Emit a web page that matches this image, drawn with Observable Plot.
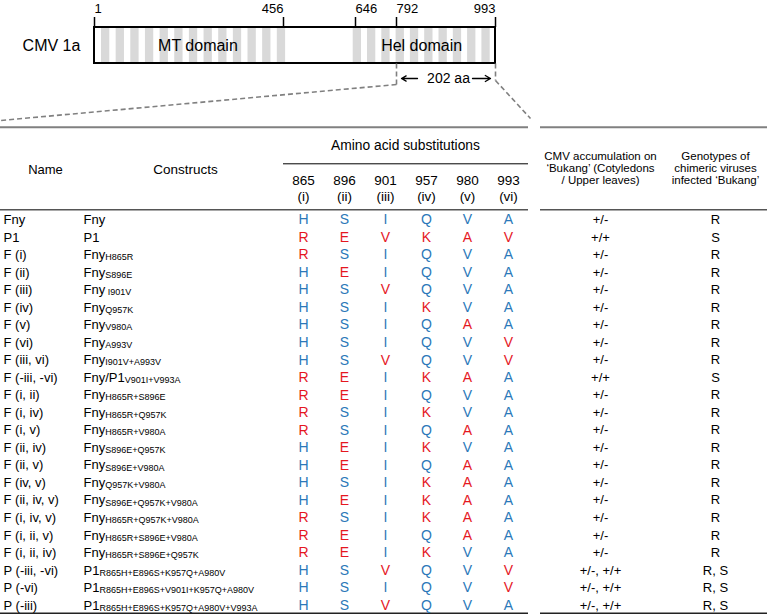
<!DOCTYPE html>
<html><head><meta charset="utf-8">
<script src="https://cdn.jsdelivr.net/npm/d3@7"></script>
<script src="https://cdn.jsdelivr.net/npm/@observablehq/plot@0.6"></script>
<style>body{margin:0;background:#fff}</style>
</head><body><div id="chart"></div>
<script>
// ---------- data ----------
const tickValues = [1, 456, 646, 792, 993];
const domainNames = ["MT domain", "Hel domain"];
const domainLabelAt = [250, 843];
const regionStart = 792, regionEnd = 993;

const positions = ["865", "896", "901", "957", "980", "993"];
const romans = ["(i)", "(ii)", "(iii)", "(iv)", "(v)", "(vi)"];

const names = ["Fny","P1","F (i)","F (ii)","F (iii)","F (iv)","F (v)","F (vi)","F (iii, vi)","F (-iii, -vi)",
  "F (i, ii)","F (i, iv)","F (i, v)","F (ii, iv)","F (ii, v)","F (iv, v)","F (ii, iv, v)","F (i, iv, v)",
  "F (i, ii, v)","F (i, ii, iv)","P (-iii, -vi)","P (-vi)","P (-iii)"];
const constructs = ["Fny","P1","Fny","Fny","Fny","Fny","Fny","Fny","Fny","Fny/P1","Fny","Fny","Fny","Fny","Fny",
  "Fny","Fny","Fny","Fny","Fny","P1","P1","P1"];
const subs = ["","","H865R","S896E"," I901V","Q957K","V980A","A993V","I901V+A993V","V901I+V993A",
  "H865R+S896E","H865R+Q957K","H865R+V980A","S896E+Q957K","S896E+V980A","Q957K+V980A",
  "S896E+Q957K+V980A","H865R+Q957K+V980A","H865R+S896E+V980A","H865R+S896E+Q957K",
  "R865H+E896S+K957Q+A980V","R865H+E896S+V901I+K957Q+A980V","R865H+E896S+K957Q+A980V+V993A"];
const residues = ["HSIQVA","REVKAV","RSIQVA","HEIQVA","HSVQVA","HSIKVA","HSIQAA","HSIQVV","HSVQVV","REIKAA",
  "REIQVA","RSIKVA","RSIQAA","HEIKVA","HEIQAA","HSIKAA","HEIKAA","RSIKAA","REIQAA","REIKVA",
  "HSVQVV","HSIQVV","HSVQVA"];
const accumulation = ["+/-","+/+","+/-","+/-","+/-","+/-","+/-","+/-","+/-","+/+","+/-","+/-","+/-","+/-","+/-",
  "+/-","+/-","+/-","+/-","+/-","+/-, +/+","+/-, +/+","+/-, +/+"];
const genotype = ["R","S","R","R","R","R","R","R","R","S","R","R","R","R","R","R","R","R","R","R","R, S","R, S","R, S"];

// ---------- layout ----------
const W = 771, H = 616;
const FONT = "Arial, 'Liberation Sans', Helvetica, sans-serif";
const BLUE = "#2b78b9", RED = "#e5171f";

const aa = Plot.scale({x: {type: "linear", domain: tickValues, range: [94, 283, 355, 396, 495]}});
const colX = Plot.scale({x: {type: "point", domain: positions, range: [303, 508], padding: 0}});
const rowY = Plot.scale({y: {type: "linear", domain: [0, names.length - 1], range: [219.3, 605]}});
const ax = v => aa.apply(v), cx = v => colX.apply(v), ry = i => rowY.apply(i);

const ctx = document.createElement("canvas").getContext("2d");
ctx.font = `13px ${FONT}`;
const measure = s => ctx.measureText(s).width;

const stripes = [
  ...d3.range(13).map(k => ({x1: 101 + k * 14.65, x2: 101 + k * 14.65 + 8.3})),
  ...d3.range(10).map(k => ({x1: 352.7 + k * 14.3, x2: 352.7 + k * 14.3 + 8.3}))
];

const cells = residues.flatMap((r, i) => positions.map((p, j) => ({
  i, p, res: r[j], color: r[j] === residues[1][j] && r[j] !== residues[0][j] ? RED : BLUE
})));

const hline = (y, x1, x2, stroke, sw) => Plot.ruleY([y], {x1, x2, stroke, strokeWidth: sw});
const dash = {stroke: "#808080", strokeWidth: 1.6, strokeDasharray: "5,3"};

const chart = Plot.plot({
  width: W, height: H, margin: 0,
  x: {domain: [0, W], range: [0, W], axis: null},
  y: {domain: [0, H], range: [0, H], axis: null},
  style: {fontFamily: FONT, background: "#fff", color: "#000"},
  marks: [
    // ---- domain diagram ----
    Plot.rect(stripes, {x1: "x1", x2: "x2", y1: 28, y2: 62, fill: "#d9d9d9"}),
    Plot.rect([0], {x1: ax(1), x2: ax(993), y1: 27, y2: 63, stroke: "#000", strokeWidth: 2, fill: "none"}),
    Plot.ruleX(tickValues, {x: d => ax(d), y1: 17, y2: 27, stroke: "#000", strokeWidth: 1.5}),
    Plot.text(tickValues.filter(d => d !== 456 && d !== 993), {x: d => ax(d), y: 8, text: d => String(d), textAnchor: "start", fontSize: 13}),
    Plot.text(tickValues.filter(d => d === 456 || d === 993), {x: d => ax(d), y: 8, text: d => String(d), textAnchor: "end", fontSize: 13}),
    Plot.text(["CMV 1a"], {x: 51, y: 45, text: d => d, fontSize: 16}),
    Plot.text(domainNames, {x: (d, i) => ax(domainLabelAt[i]), y: 45, text: d => d, fontSize: 16}),
    Plot.link([0], {x1: ax(regionStart), x2: ax(regionStart), y1: 63, y2: 84, ...dash}),
    Plot.link([0], {x1: ax(regionEnd), x2: ax(regionEnd), y1: 63, y2: 80, ...dash}),
    Plot.link([0], {x1: ax(regionStart), y1: 84, x2: 0, y2: 120, ...dash}),
    Plot.link([0], {x1: ax(regionEnd), y1: 80, x2: 530, y2: 118, ...dash}),
    Plot.arrow([0], {x1: 417, y1: 78, x2: 401, y2: 78, stroke: "#000", strokeWidth: 1.3, headLength: 8}),
    Plot.arrow([0], {x1: 472, y1: 78, x2: 490, y2: 78, stroke: "#000", strokeWidth: 1.3, headLength: 8}),
    Plot.text([`${regionEnd - regionStart + 1} aa`], {x: 448, y: 78, text: d => d, fontSize: 14}),

    // ---- table rules ----
    hline(126.7, 0, 528, "#808080", 2),
    hline(126.7, 540, 767, "#808080", 2),
    hline(163.3, 283, 528, "#000", 1),
    hline(209.3, 0, 528, "#555", 1.5),
    hline(209.3, 540, 767, "#555", 1.5),
    hline(612.7, 0, 528, "#222", 1.5),
    hline(612.7, 540, 767, "#222", 1.5),

    // ---- table header ----
    Plot.text(["Name"], {x: 45, y: 169.3, text: d => d, fontSize: 13}),
    Plot.text(["Constructs"], {x: 185, y: 169.3, text: d => d, fontSize: 13.5}),
    Plot.text(["Amino acid substitutions"], {x: 405, y: 145, text: d => d, fontSize: 13.8}),
    Plot.text(positions, {x: d => cx(d), y: 180, text: d => d, fontSize: 13.5}),
    Plot.text(romans, {x: (d, i) => cx(positions[i]), y: 196, text: d => d, fontSize: 13.5}),
    Plot.text(["CMV accumulation on\n\u2018Bukang\u2019 (Cotyledons\n/ Upper leaves)"], {x: 600, y: 167.3, text: d => d, fontSize: 11.5, lineHeight: 1.06}),
    Plot.text(["Genotypes of\nchimeric viruses\ninfected \u2018Bukang\u2019"], {x: 715, y: 167.3, text: d => d, fontSize: 11.5, lineHeight: 1.06}),

    // ---- table body ----
    Plot.text(names, {x: 3, y: (d, i) => ry(i), text: d => d, textAnchor: "start", fontSize: 13}),
    Plot.text(constructs, {x: 83, y: (d, i) => ry(i), text: d => d, textAnchor: "start", fontSize: 13}),
    Plot.text(subs, {x: (d, i) => 83 + measure(constructs[i]), y: (d, i) => ry(i), text: d => d, textAnchor: "start", lineAnchor: "bottom", dy: 5.3, fontSize: 9}),
    Plot.text(cells, {x: d => cx(d.p), y: d => ry(d.i), text: "res", fill: d => d.color, fontSize: 14}),
    Plot.text(accumulation, {x: 600, y: (d, i) => ry(i), text: d => d, fontSize: 13}),
    Plot.text(genotype, {x: 715, y: (d, i) => ry(i), text: d => d, fontSize: 13})
  ]
});
document.getElementById("chart").append(chart);
</script>
</body></html>
